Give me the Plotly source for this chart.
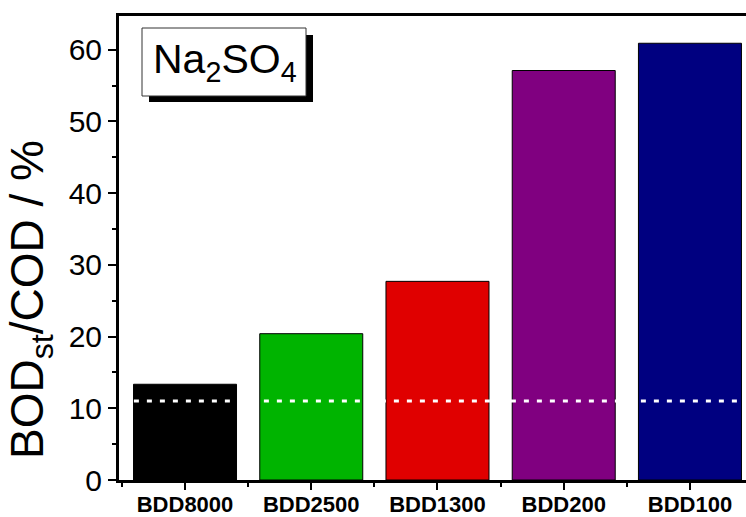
import plotly.graph_objects as go

categories = ["BDD8000", "BDD2500", "BDD1300", "BDD200", "BDD100"]
values = [13.35, 20.4, 27.7, 57.1, 60.9]
colors = ["#000000", "#00B400", "#E00000", "#800080", "#000080"]
threshold = 11.0
y_ticks = [0, 10, 20, 30, 40, 50, 60]

W, H = 746, 517
ml, mr, mt, mb = 119, 0, 16, 37
pw, ph = W - ml - mr, H - mt - mb

def px(x):
    return (x - ml) / pw

def py(y):
    return (H - mb - y) / ph

xs = list(range(len(categories)))

fig = go.Figure()
fig.add_trace(go.Bar(
    x=xs, y=values, width=0.816,
    marker=dict(color=colors, line=dict(color="#000000", width=1)),
    showlegend=False,
))

font_family = "Arial, Liberation Sans, sans-serif"

fig.update_layout(
    width=W, height=H,
    margin=dict(l=ml, r=mr, t=mt, b=mb, pad=0, autoexpand=False),
    plot_bgcolor="white", paper_bgcolor="white",
    xaxis=dict(
        range=[-0.523, 4.444], automargin=False,
        tickmode="array", tickvals=xs, ticktext=categories,
        ticks="outside", ticklen=7, tickwidth=2, tickcolor="black",
        ticklabelstandoff=-4,
        showline=True, linewidth=3, linecolor="black", mirror=True,
        showgrid=False, zeroline=False,
        tickfont=dict(family=font_family, size=22, color="black", weight="bold"),
        minor=dict(tick0=0.5, dtick=1, ticks="outside", ticklen=4, tickwidth=2, tickcolor="black"),
    ),
    yaxis=dict(
        range=[0, 64.7], automargin=False,
        tickmode="array", tickvals=y_ticks,
        ticks="outside", ticklen=8, tickwidth=2, tickcolor="black",
        showline=True, linewidth=3, linecolor="black", mirror=False,
        showgrid=False, zeroline=False,
        tickfont=dict(family=font_family, size=30, color="black"),
        minor=dict(tick0=0, dtick=5, ticks="outside", ticklen=4, tickwidth=2, tickcolor="black"),
    ),
)

# dotted threshold line
fig.add_shape(type="line", xref="paper", yref="y", x0=0.003, x1=1, y0=threshold, y1=threshold,
              line=dict(color="white", width=3, dash="5px,8px"), layer="above")

# label box with shadow
fig.add_shape(type="rect", xref="paper", yref="paper",
              x0=px(149), x1=px(313), y0=py(102), y1=py(35),
              fillcolor="black", line=dict(color="black", width=0), layer="above")
fig.add_shape(type="rect", xref="paper", yref="paper",
              x0=px(142), x1=px(306), y0=py(96), y1=py(28),
              fillcolor="white", line=dict(color="#333333", width=1), layer="above")
fig.add_annotation(xref="paper", yref="paper", x=px(225), y=py(62),
                   text="Na<sub>2</sub>SO<sub>4</sub>", showarrow=False,
                   xanchor="center", yanchor="middle",
                   font=dict(family=font_family, size=41, color="black"))

# y-axis title
fig.add_annotation(xref="paper", yref="paper", x=px(30), y=py(300),
                   text="BOD<sub>st</sub>/COD / %", showarrow=False, textangle=-90,
                   xanchor="center", yanchor="middle",
                   font=dict(family=font_family, size=46, color="black"))

fig.write_html("out.html")
